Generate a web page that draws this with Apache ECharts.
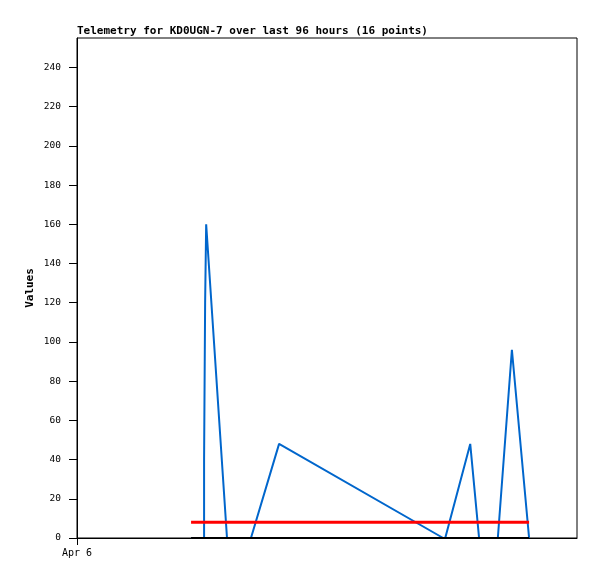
<!DOCTYPE html>
<html>
<head>
<meta charset="utf-8">
<script src="https://cdn.jsdelivr.net/npm/echarts@6/dist/echarts.min.js"></script>
<style>
  html, body { margin: 0; padding: 0; background: #fff; }
  #chart { width: 597px; height: 579px; }
</style>
</head>
<body>
<div id="chart"></div>
<script>
// hours since Apr 6 00:00, window is 96 hours
const hours = [21.9, 24.4, 24.4, 24.6, 24.8, 28.8, 33.4, 38.8, 70.3, 70.7, 75.5, 77.2, 80.8, 83.5, 86.8]
const telemetry = [0, 0, 40, 120, 160, 0, 0, 48, 0, 0, 48, 0, 0, 96, 0]
const thresholdSpan = [21.9, 86.8]
const thresholdValues = [8, 8]
const baseValues = [0, 0]
const firstLabel = 'Apr 6'

const chart = echarts.init(document.getElementById('chart'))

const pairs = (xs, ys) => xs.map((x, i) => [x, ys[i]])
const mono = 'DejaVu Sans Mono'

chart.setOption({
  animation: false,
  title: {
    text: 'Telemetry for KD0UGN-7 over last 96 hours (16 points)',
    left: 77,
    top: 26,
    padding: 0,
    textStyle: { fontFamily: mono, fontSize: 11, fontWeight: 'bold', color: '#000' }
  },
  grid: {
    left: 77, top: 38, width: 500, height: 500,
    show: true, borderColor: '#000', borderWidth: 1
  },
  xAxis: {
    type: 'value',
    min: 0, max: 96, interval: 96,
    splitLine: { show: false },
    axisLine: { lineStyle: { color: '#000' } },
    axisTick: { length: 7, customValues: [0], lineStyle: { color: '#000' } },
    axisLabel: {
      fontFamily: mono, fontSize: 10, color: '#000', margin: 10,
      customValues: [0],
      formatter: function (v) { return v === 0 ? firstLabel : '' }
    }
  },
  yAxis: {
    type: 'value',
    min: 0, max: 255, interval: 20,
    name: 'Values',
    nameLocation: 'middle',
    nameGap: 41,
    nameMoveOverlap: false,
    nameTextStyle: { fontFamily: mono, fontSize: 11, fontWeight: 'bold', color: '#000' },
    splitLine: { show: false },
    axisLine: { show: true, lineStyle: { color: '#000' } },
    axisTick: { show: true, length: 8, lineStyle: { color: '#000' } },
    axisLabel: { fontFamily: mono, fontSize: 9.5, color: '#000', margin: 16, showMaxLabel: false }
  },
  series: [
    {
      type: 'line',
      data: pairs(hours, telemetry),
      showSymbol: false,
      lineStyle: { color: '#0066cc', width: 2 },
      z: 2
    },
    {
      type: 'line',
      data: pairs(thresholdSpan, thresholdValues),
      showSymbol: false,
      lineStyle: { color: '#ff0000', width: 3 },
      z: 3
    },
    {
      type: 'line',
      data: pairs(thresholdSpan, baseValues),
      showSymbol: false,
      lineStyle: { color: '#000', width: 2 },
      z: 4
    }
  ]
})
</script>
</body>
</html>
